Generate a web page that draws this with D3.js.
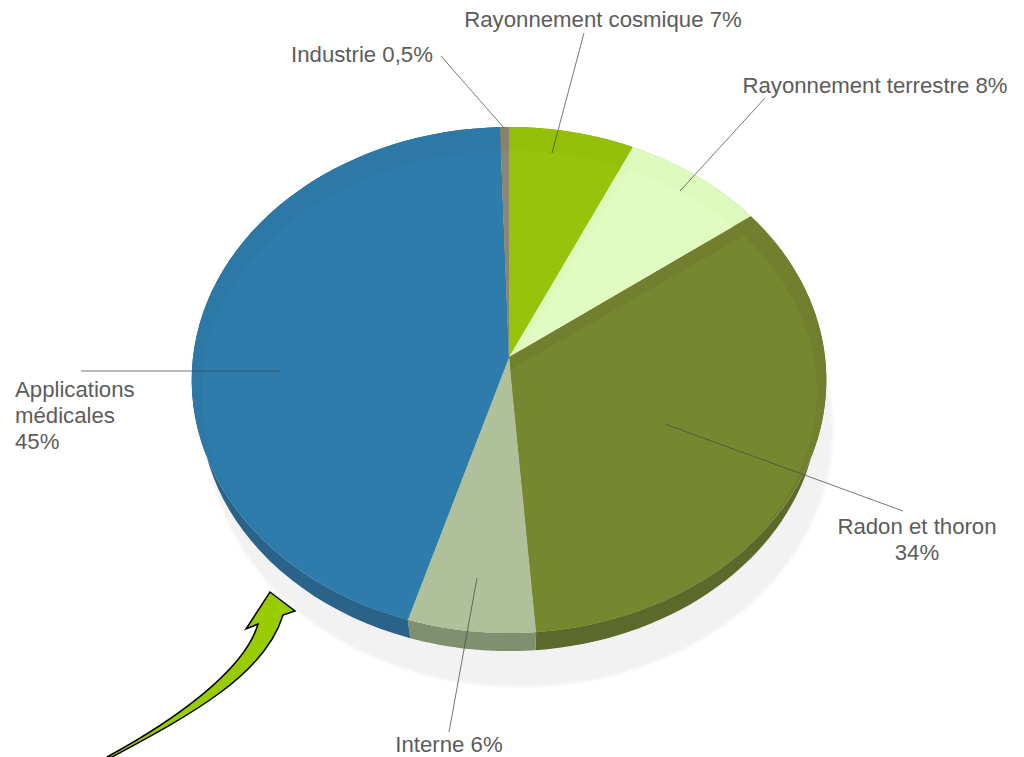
<!DOCTYPE html>
<html><head><meta charset="utf-8">
<script src="https://cdn.jsdelivr.net/npm/d3@7"></script>
<style>html,body{margin:0;padding:0;background:#fff}svg{display:block}
text{font-family:"Liberation Sans",Arial,sans-serif;font-size:22.2px;fill:#5c5c5c}</style>
</head><body><svg id="c" width="1024" height="757"></svg>
<script>
const categories = ["Rayonnement cosmique","Rayonnement terrestre","Radon et thoron","Interne","Applications médicales","Industrie"];
const values = [7,8,34,6,45,0.5];
const topColors = ["#97c30b","#e0fcc0","#76882f","#b0c09a","#2e7cab","#8a8672"];
const lipColors = ["#94bf09","#ddf9bc","#717f2e","#b0c09a","#2c79a7","#86826e"];
const wallColors = ["#6e8c08","#a9c28e","#5b692a","#80906f","#29638a","#5f5d50"];

const labels = [
 {lines:["Rayonnement cosmique 7%"],x:603,y:27,anchor:"middle",from:[584,33],to:[552,153]},
 {lines:["Rayonnement terrestre 8%"],x:875,y:93,anchor:"middle",from:[765,98],to:[680,191]},
 {lines:["Radon et thoron","34%"],x:917,y:534,anchor:"middle",from:[903,511],to:[665,424]},
 {lines:["Interne 6%"],x:449,y:752,anchor:"middle",from:[449,732],to:[477,578]},
 {lines:["Applications","médicales","45%"],x:15,y:397,anchor:"start",from:[81,371],to:[279,371]},
 {lines:["Industrie 0,5%"],x:362,y:62,anchor:"middle",from:[441,56],to:[504,128]}
];

const svg = d3.select("#c");
const defs = svg.append("defs");
defs.append("filter").attr("id","soft").append("feGaussianBlur").attr("stdDeviation",1.5);

// perspective projection of the pie's unit disc on to the page
const cx=509, cy=357, A=250.9, B=316, k=-0.0909;
const proj=(t,r=1)=>{const x=Math.sin(t)*r,y=-Math.cos(t)*r,d=1+k*y;return [cx+B*x/d,cy+A*y/d];};
const arcs=d3.pie().sort(null).value(d=>d)(values);
const rim=(a,b)=>d3.range(0,61).map(i=>proj(a+(b-a)*i/60));
const line=d3.line();

// ground shadow
svg.append("ellipse").attr("cx",520).attr("cy",430).attr("rx",313).attr("ry",257)
  .attr("fill","#f2f2f3").attr("filter","url(#soft)");

// side wall
const wallS=0.975, wallDy=25;
const low=p=>[cx+(p[0]-cx)*wallS, cy+(p[1]-cy)*wallS+wallDy];
svg.append("g").selectAll("path").data(arcs).join("path")
  .attr("d",d=>{const r=rim(d.startAngle,d.endAngle);return line(r.concat(r.map(low).reverse()))+"Z";})
  .attr("fill",(d,i)=>wallColors[i]);

// top surface
const slice=d=>line([[cx,cy]].concat(rim(d.startAngle,d.endAngle)))+"Z";
arcs.forEach((d,i)=>defs.append("clipPath").attr("id","s"+i).append("path").attr("d",slice(d)));
const face=svg.append("g");
face.selectAll("path.lip").data(arcs).join("path").attr("class","lip")
  .attr("d",slice).attr("fill",(d,i)=>lipColors[i]);
face.selectAll("g.in").data(arcs).join("g").attr("class","in").attr("clip-path",(d,i)=>`url(#s${i})`)
  .append("path").attr("d",slice).attr("fill",(d,i)=>topColors[i])
  .attr("transform",`translate(${cx},588) scale(.97,.955) translate(${-cx},-588) translate(0,3)`);

// green arrow
const ar=d3.path();
ar.moveTo(270,592);ar.lineTo(295,611);ar.lineTo(283,615);
ar.bezierCurveTo(265,675,190,715,112,757);
ar.lineTo(107,757);
ar.bezierCurveTo(175,720,245,670,258,624);
ar.lineTo(246,629);ar.closePath();
svg.append("path").attr("d",ar.toString()).attr("fill","#99cc00").attr("stroke","#000").attr("stroke-width",1.5);

// leaders + labels
svg.append("g").selectAll("line").data(labels).join("line")
  .attr("x1",d=>d.from[0]).attr("y1",d=>d.from[1]).attr("x2",d=>d.to[0]).attr("y2",d=>d.to[1])
  .attr("stroke","#4a4a4a").attr("stroke-opacity",.75).attr("stroke-width",1);
svg.append("g").selectAll("text").data(labels).join("text")
  .attr("x",d=>d.x).attr("y",d=>d.y).attr("text-anchor",d=>d.anchor)
  .each(function(d){d3.select(this).selectAll("tspan").data(d.lines).join("tspan")
    .attr("x",d.x).attr("dy",(l,i)=>i?26:0).text(l=>l);});
</script></body></html>
